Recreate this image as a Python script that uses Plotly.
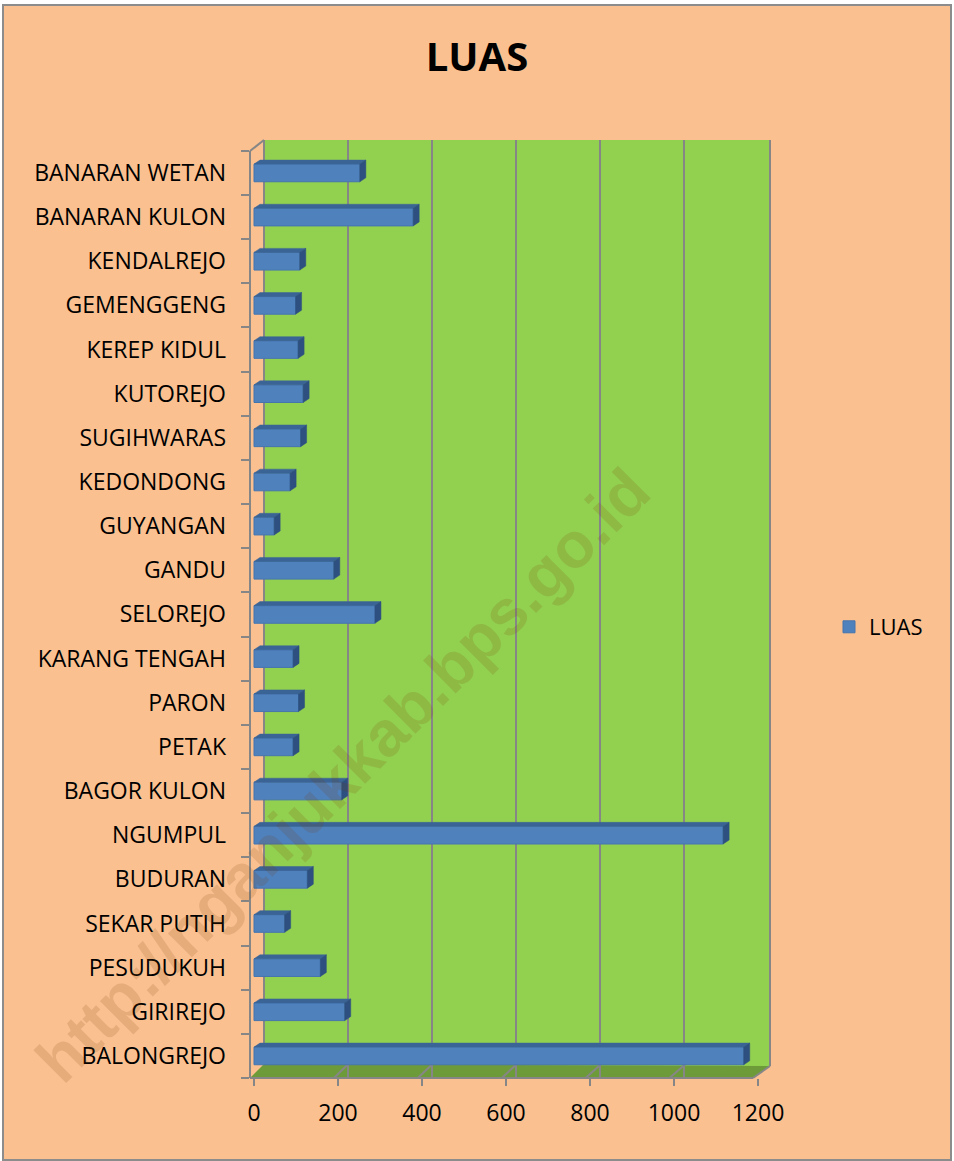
import plotly.graph_objects as go

# data, bottom to top as in the chart
categories = [
    "BALONGREJO", "GIRIREJO", "PESUDUKUH", "SEKAR PUTIH", "BUDURAN",
    "NGUMPUL", "BAGOR KULON", "PETAK", "PARON", "KARANG TENGAH",
    "SELOREJO", "GANDU", "GUYANGAN", "KEDONDONG", "SUGIHWARAS",
    "KUTOREJO", "KEREP KIDUL", "GEMENGGENG", "KENDALREJO",
    "BANARAN KULON", "BANARAN WETAN",
]
luas = [
    1166, 216, 158, 73, 127,
    1117, 209, 93, 106, 93,
    288, 190, 48, 86, 111,
    117, 105, 99, 109,
    379, 252,
]
x_ticks = [0, 200, 400, 600, 800, 1000, 1200]

PEACH = '#FAC090'
GREEN = '#92D050'
FLOOR = '#6E9B3A'
BLUE = '#4F81BD'
GREY = '#868686'
FONT = 'Open Sans'

# plot area in pixels
W, H = 954, 1161
L, R, T, B = 250, 770, 140, 1078
K = 0.42            # px per unit on value axis
ROW = 44.15         # px per category row


def px(x):
    return (x - L) / (R - L)


def py(y):
    return (B - y) / (B - T)


x_range = [-4 / K, -4 / K + (R - L) / K]
x2_shift = 10 / K
y_range = [-0.5, -0.5 + (B - T) / ROW]

# 3d faces of the bars
dx, dy, half = 6 / K, 4 / ROW, 0.2
top_x, top_y, side_x, side_y = [], [], [], []
for i, v in enumerate(luas):
    top_x += [0, v, v + dx, dx, 0, None]
    top_y += [i + half, i + half, i + half + dy, i + half + dy, i + half, None]
    side_x += [v, v + dx, v + dx, v, v, None]
    side_y += [i - half, i - half + dy, i + half + dy, i + half, i - half, None]

fig = go.Figure()

# empty trace so the back-wall grid axis gets drawn
fig.add_trace(go.Scatter(x=[], y=[], xaxis='x2', yaxis='y', showlegend=False,
                         hoverinfo='skip'))
fig.add_trace(go.Bar(
    y=categories,
    x=luas,
    orientation='h',
    width=0.4,
    name='LUAS',
    marker=dict(color=BLUE, line=dict(color='#4675AE', width=1)),
    xaxis='x', yaxis='y',
))
fig.add_trace(go.Scatter(
    x=top_x, y=top_y, fill='toself', fillcolor='#3B6496', mode='lines',
    line=dict(color='#3B6496', width=0.5), showlegend=False, hoverinfo='skip',
    xaxis='x', yaxis='y2',
))
fig.add_trace(go.Scatter(
    x=side_x, y=side_y, fill='toself', fillcolor='#2D5080', mode='lines',
    line=dict(color='#2D5080', width=0.5), showlegend=False, hoverinfo='skip',
    xaxis='x', yaxis='y2',
))

# chart decoration: border, walls, floor
shapes = [
    dict(type='rect', xref='paper', yref='paper', layer='below',
         x0=px(3), x1=px(951), y0=py(1160), y1=py(5),
         fillcolor=PEACH, line=dict(color='#8C8C8C', width=2)),
    dict(type='rect', xref='paper', yref='paper', layer='below',
         x0=px(264), x1=px(770), y0=py(1066), y1=py(140),
         fillcolor=GREEN, line=dict(width=0)),
    dict(type='path', xref='paper', yref='paper', layer='between',
         path=f"M {px(250)},{py(1078)} L {px(753)},{py(1078)} L {px(770)},{py(1066)} "
              f"L {px(264)},{py(1064)} Z",
         fillcolor=FLOOR, line=dict(width=0)),
]
edges = [
    ((250, 151), (250, 1078)),
    ((250, 151), (264, 140)),
    ((264, 140), (264, 1064)),
    ((770, 140), (770, 1066)),
    ((250, 1078), (753, 1078)),
    ((753, 1078), (770, 1066)),
]
for j in range(1, len(x_ticks) - 1):
    edges.append(((264 + j * 84.3, 1064), (250 + j * 83.9, 1078)))
for (x0, y0), (x1, y1) in edges:
    shapes.append(dict(type='line', xref='paper', yref='paper', layer='between',
                       x0=px(x0), y0=py(y0), x1=px(x1), y1=py(y1),
                       line=dict(color=GREY, width=2)))

fig.update_layout(
    width=W, height=H,
    margin=dict(l=L, r=W - R, t=T, b=H - B),
    paper_bgcolor='white',
    plot_bgcolor='rgba(0,0,0,0)',
    title=dict(text='<b>LUAS</b>', x=0.5, xref='container', xanchor='center',
               y=1 - 57 / H, yref='container', yanchor='middle',
               font=dict(family=FONT, size=40, color='black')),
    font=dict(family=FONT, color='black'),
    bargap=0.6,
    xaxis=dict(range=x_range, tickvals=x_ticks, showgrid=False, zeroline=False,
               showline=False, ticks='outside', ticklen=7, tickwidth=2, tickcolor=GREY,
               tickfont=dict(size=23), ticklabelstandoff=7),
    xaxis2=dict(range=[x_range[0] - x2_shift, x_range[1] - x2_shift], overlaying='x',
                anchor='y', side='bottom', tickvals=x_ticks[1:-1], showgrid=True,
                gridcolor=GREY, gridwidth=2, showticklabels=False, ticks='',
                zeroline=False, showline=False),
    yaxis=dict(type='category', categoryorder='array', categoryarray=categories,
               range=y_range, tickson='boundaries', ticks='outside', ticklen=8,
               tickwidth=2, tickcolor=GREY, showgrid=False, zeroline=False,
               showline=False, tickfont=dict(size=23), ticklabelstandoff=23),
    yaxis2=dict(range=y_range, overlaying='y', visible=False),
    legend=dict(x=px(829), xanchor='left', y=py(627), yanchor='middle',
                bgcolor='rgba(0,0,0,0)', font=dict(size=22)),
    shapes=shapes,
    annotations=[dict(
        text='<b>http://nganjukkab.bps.go.id</b>', xref='paper', yref='paper',
        x=px(343), y=py(775), xanchor='center', yanchor='middle',
        showarrow=False, textangle=-45,
        font=dict(family='Liberation Sans', size=64, color='rgba(120,60,0,0.15)'),
    )],
)

fig.write_html("out.html", config={'displayModeBar': False},
               post_script="document.body.style.margin = '0';")
